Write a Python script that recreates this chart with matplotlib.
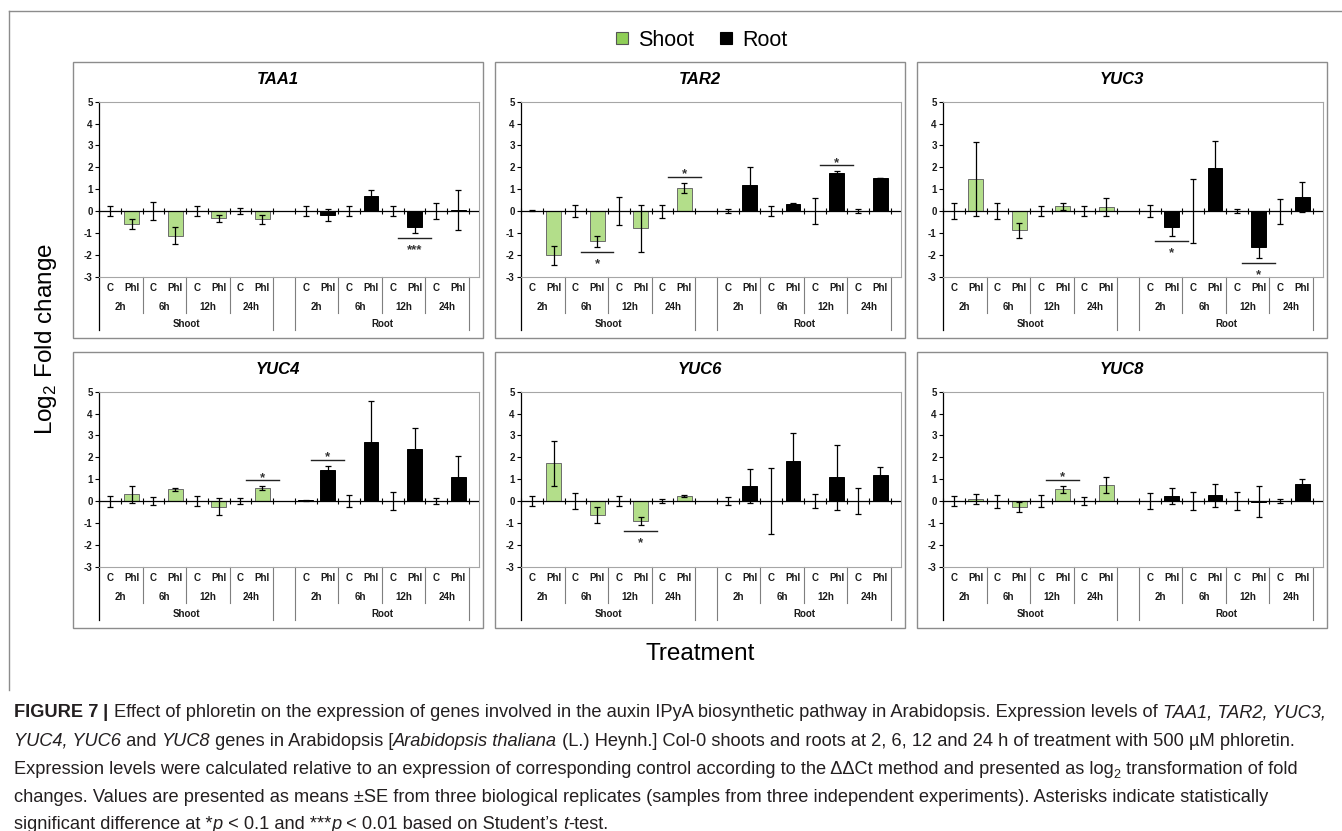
import matplotlib

matplotlib.use("Agg")
import matplotlib.pyplot as plt
import matplotlib.transforms as mtransforms
from matplotlib.lines import Line2D
from matplotlib.patches import Rectangle

plt.rcParams["font.family"] = ["Liberation Sans", "DejaVu Sans"]
plt.rcParams["mathtext.fontset"] = "custom"
plt.rcParams["mathtext.rm"] = "Liberation Sans"
plt.rcParams["axes.unicode_minus"] = False

# log2 fold change per gene: shoot C/Phl at 2, 6, 12, 24 h, then root C/Phl
TAA1_MEAN = [0, -0.58, 0, -1.12, 0, -0.32, 0, -0.37, 0, -0.18, 0, 0.68, 0, -0.75, 0, 0.04]
TAA1_SE = [0.22, 0.24, 0.40, 0.40, 0.24, 0.16, 0.15, 0.21, 0.23, 0.28, 0.22, 0.27, 0.24, 0.24, 0.38, 0.92]

TAR2_MEAN = [0.02, -2.03, 0, -1.38, 0, -0.79, 0, 1.07, 0, 1.19, 0, 0.34, 0, 1.75, 0, 1.52]
TAR2_SE = [0.01, 0.45, 0.26, 0.25, 0.63, 1.07, 0.30, 0.23, 0.10, 0.81, 0.23, 0.02, 0.61, 0.08, 0.10, 0.0]

YUC3_MEAN = [0, 1.46, 0, -0.88, 0, 0.23, 0, 0.19, 0, -0.73, 0, 1.98, 0, -1.66, 0, 0.64]
YUC3_SE = [0.35, 1.68, 0.37, 0.34, 0.23, 0.16, 0.23, 0.42, 0.26, 0.40, 1.47, 1.23, 0.10, 0.49, 0.57, 0.70]

YUC4_MEAN = [0, 0.31, 0, 0.54, 0, -0.26, 0, 0.58, 0.03, 1.42, 0, 2.68, 0, 2.38, 0, 1.11]
YUC4_SE = [0.25, 0.38, 0.20, 0.08, 0.24, 0.38, 0.12, 0.09, 0.01, 0.20, 0.29, 1.89, 0.43, 0.97, 0.12, 0.96]

YUC6_MEAN = [0, 1.72, 0, -0.64, 0, -0.90, 0, 0.23, 0, 0.70, 0, 1.84, 0, 1.08, 0, 1.19]
YUC6_SE = [0.23, 1.04, 0.35, 0.38, 0.23, 0.18, 0.10, 0.05, 0.20, 0.78, 1.50, 1.25, 0.32, 1.47, 0.60, 0.38]

YUC8_MEAN = [0, 0.08, 0, -0.26, 0, 0.53, 0, 0.73, 0, 0.23, 0, 0.27, 0, -0.03, 0, 0.80]
YUC8_SE = [0.24, 0.23, 0.30, 0.24, 0.27, 0.17, 0.20, 0.38, 0.38, 0.35, 0.40, 0.52, 0.42, 0.70, 0.10, 0.22]

GENES = ["TAA1", "TAR2", "YUC3", "YUC4", "YUC6", "YUC8"]
TREATMENTS = ["C", "Phl"]
TIMES = ["2h", "6h", "12h", "24h"]
TISSUES = ["Shoot", "Root"]

# significance marks: gene, group (0-3 shoot times, 4-7 root times), bar level, stars, side
SIGNIF = [
    ("TAA1", 6, -1.22, "***", "below"),
    ("TAR2", 1, -1.86, "*", "below"),
    ("TAR2", 3, 1.58, "*", "above"),
    ("TAR2", 6, 2.09, "*", "above"),
    ("YUC3", 4, -1.37, "*", "below"),
    ("YUC3", 6, -2.38, "*", "below"),
    ("YUC4", 3, 0.95, "*", "above"),
    ("YUC4", 4, 1.89, "*", "above"),
    ("YUC6", 2, -1.37, "*", "below"),
    ("YUC8", 2, 0.97, "*", "above"),
]

DATA = {
    "TAA1": (TAA1_MEAN, TAA1_SE),
    "TAR2": (TAR2_MEAN, TAR2_SE),
    "YUC3": (YUC3_MEAN, YUC3_SE),
    "YUC4": (YUC4_MEAN, YUC4_SE),
    "YUC6": (YUC6_MEAN, YUC6_SE),
    "YUC8": (YUC8_MEAN, YUC8_SE),
}

SHOOT_GREEN = "#b3de8a"
LEGEND_GREEN = "#8fce57"
FRAME_GREY = "#8c8c8c"
PLOT_GREY = "#a6a6a6"

W, H = 1342, 831
fig = plt.figure(figsize=(W / 100, H / 100), dpi=100)


def fx(px):
    return px / W


def fy(py):
    return 1 - py / H


# slots: 8 shoot bars, one empty slot, 8 root bars
slots = [i for i in range(8)] + [i + 9 for i in range(8)]
colors = [SHOOT_GREEN] * 8 + ["black"] * 8
edges = ["#6b6b6b"] * 8 + ["black"] * 8

AX_H = 175.0
LABEL_KW = dict(fontsize=7, fontweight="bold", color="#1a1a1a")

for k, gene in enumerate(GENES):
    row, col = divmod(k, 3)
    bx = 73 + col * 422
    by = 62 + row * 290
    fig.patches.append(
        Rectangle((fx(bx), fy(by + 276)), 410 / W, 276 / H, transform=fig.transFigure,
                  fill=False, edgecolor=FRAME_GREY, lw=1.0)
    )
    fig.text(fx(bx + 205), fy(by + 18), gene, ha="center", va="center",
             fontsize=12, fontweight="bold", fontstyle="italic")

    ax = fig.add_axes([fx(bx + 26), fy(by + 39.7 + AX_H), 380 / W, AX_H / H])
    means, errs = DATA[gene]
    ax.bar(slots, means, width=0.68, color=colors, edgecolor=edges, linewidth=0.7, zorder=2)
    ax.errorbar(slots, means, yerr=errs, fmt="none", ecolor="black", elinewidth=0.9,
                capsize=2.2, capthick=0.9, zorder=3)
    ax.axhline(0, color="black", lw=0.9, zorder=4)
    bounds = [b - 0.5 for b in range(18)]
    ax.plot(bounds, [0] * len(bounds), ls="none", marker="|", ms=5, mew=0.8,
            color="black", zorder=4, clip_on=False)

    ax.set_xlim(-0.5, 16.96)
    ax.set_ylim(-3, 5)
    ax.set_yticks(range(-3, 6))
    ax.set_xticks([])
    ax.tick_params(axis="y", direction="out", length=3, width=0.8, labelsize=7, pad=1.5,
                   labelcolor="#1a1a1a")
    for lab in ax.get_yticklabels():
        lab.set_fontweight("bold")
    ax.spines["left"].set_color("black")
    ax.spines["left"].set_linewidth(0.9)
    for side in ["top", "right", "bottom"]:
        ax.spines[side].set_color(PLOT_GREY)
        ax.spines[side].set_linewidth(0.8)

    # multi-level category table below the plot area
    trans = mtransforms.blended_transform_factory(ax.transData, ax.transAxes)

    def below(px):
        return -px / AX_H

    for b in [1.5, 3.5, 5.5, 10.5, 12.5, 14.5]:
        ax.add_line(Line2D([b, b], [0, below(36.5)], transform=trans, color="#7f7f7f",
                           lw=0.8, clip_on=False))
    for b in [-0.5, 7.5, 8.5, 16.5]:
        c = "black" if b == -0.5 else "#7f7f7f"
        ax.add_line(Line2D([b, b], [0, below(53.5)], transform=trans, color=c,
                           lw=0.9 if b == -0.5 else 0.8, clip_on=False))
    for s in slots:
        name = TREATMENTS[s % 2] if s < 8 else TREATMENTS[(s - 9) % 2]
        ax.text(s, below(11.3), name, transform=trans, ha="center", va="center", **LABEL_KW)
    for g in range(8):
        start = g * 2 if g < 4 else g * 2 + 1
        ax.text(start + 0.5, below(30), TIMES[g % 4], transform=trans,
                ha="center", va="center", **LABEL_KW)
    ax.text(3.5, below(47.5), TISSUES[0], transform=trans, ha="center", va="center", **LABEL_KW)
    ax.text(12.5, below(47.5), TISSUES[1], transform=trans, ha="center", va="center", **LABEL_KW)

    for g_name, group, level, stars, side in SIGNIF:
        if g_name != gene:
            continue
        phl = group * 2 + 1 if group < 4 else group * 2 + 2
        ax.plot([phl - 0.75, phl + 0.75], [level, level], color="#222222", lw=1.0, zorder=5)
        dy = -0.5 if side == "above" else -11
        ax.annotate(stars, (phl, level), xytext=(0, dy), textcoords="offset points",
                    ha="center", va="baseline", fontsize=9.5, fontweight="bold",
                    color="#333333")

# shared legend and axis titles
handles = [
    Line2D([], [], ls="none", marker="s", ms=8, mfc=LEGEND_GREEN, mec="#555555", mew=0.8),
    Line2D([], [], ls="none", marker="s", ms=8, mfc="black", mec="black", mew=0.8),
]
fig.legend(handles, TISSUES, loc="center", bbox_to_anchor=(fx(701), fy(40)), ncol=2,
           frameon=False, fontsize=15.5, handlelength=0.7, handletextpad=0.4,
           columnspacing=1.1, borderpad=0)
fig.text(fx(46), fy(339), "Log$_2$ Fold change", rotation=90, ha="center", va="center",
         fontsize=17.5)
fig.text(fx(700), fy(654), "Treatment", ha="center", va="center", fontsize=17.5)

# figure frame
fig.add_artist(Line2D([fx(9), fx(W)], [fy(11), fy(11)], transform=fig.transFigure,
                      color=FRAME_GREY, lw=1.0))
fig.add_artist(Line2D([fx(9), fx(9)], [fy(11), fy(690)], transform=fig.transFigure,
                      color=FRAME_GREY, lw=1.0))

# caption, laid out segment by segment
CAPTION = [
    [("FIGURE 7", "b"), (" | ", "b"),
     ("Effect of phloretin on the expression of genes involved in the auxin IPyA biosynthetic "
      "pathway in Arabidopsis. Expression levels of ", "n"), ("TAA1, TAR2, YUC3,", "i")],
    [("YUC4, YUC6", "i"), (" and ", "n"), ("YUC8", "i"), (" genes in Arabidopsis [", "n"),
     ("Arabidopsis thaliana", "i"),
     (" (L.) Heynh.] Col-0 shoots and roots at 2, 6, 12 and 24 h of treatment with 500 µM phloretin.", "n")],
    [("Expression levels were calculated relative to an expression of corresponding control "
      "according to the ΔΔCt method and presented as log", "n"), ("2", "sub"),
     (" transformation of fold", "n")],
    [("changes. Values are presented as means ±SE from three biological replicates (samples "
      "from three independent experiments). Asterisks indicate statistically", "n")],
    [("significant difference at *", "n"), ("p", "i"), (" < 0.1 and ***", "n"), ("p", "i"),
     (" < 0.01 based on Student’s ", "n"), ("t", "i"), ("-test.", "n")],
]
CAP_BASELINES = [717, 745.5, 774, 802.5, 829]
CAP_FONT = ["Liberation Sans", "DejaVu Sans"]
CAP_COLOR = "#231f20"

renderer = fig.canvas.get_renderer()


def seg_props(style, size):
    props = dict(family=CAP_FONT, fontsize=size, color=CAP_COLOR)
    if style == "b":
        props["fontweight"] = "bold"
    elif style == "i":
        props["fontstyle"] = "italic"
    elif style == "sub":
        props["fontsize"] = size * 0.7
    return props


def seg_width(text, props):
    probe = fig.text(0, 0, "|" + text + "|", **props)
    bars = fig.text(0, 0, "||", **props)
    w = probe.get_window_extent(renderer).width - bars.get_window_extent(renderer).width
    probe.remove()
    bars.remove()
    return w


base = 10.0
line_w = sum(seg_width(t, seg_props(s, base)) for t, s in CAPTION[0])
cap_size = base * 1316 / line_w

for segs, yb in zip(CAPTION, CAP_BASELINES):
    x = 14.0
    for text, style in segs:
        props = seg_props(style, cap_size)
        y = yb + (0.22 * cap_size * 100 / 72 if style == "sub" else 0)
        fig.text(fx(x), fy(y), text, ha="left", va="baseline", **props)
        x += seg_width(text, props)

fig.savefig("out.png", dpi=100)
